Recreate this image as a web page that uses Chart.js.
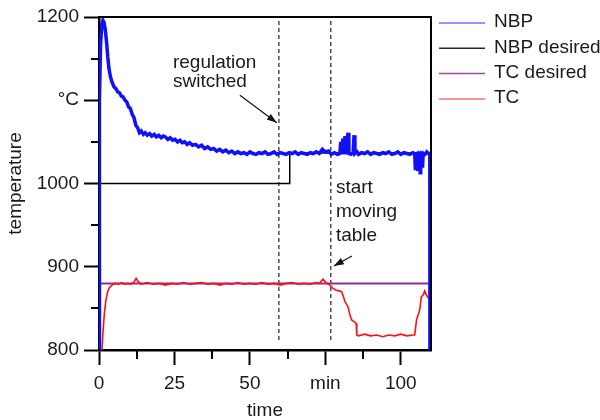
<!DOCTYPE html>
<html>
<head>
<meta charset="utf-8">
<script src="https://cdn.jsdelivr.net/npm/chart.js@4.4.1/dist/chart.umd.min.js"></script>
<style>
  html, body { margin: 0; padding: 0; background: #fff; }
  #wrap { width: 600px; height: 420px; }
</style>
</head>
<body>
<div id="wrap"><canvas id="chart" width="600" height="420"></canvas></div>
<script>
// axis ticks
const xMajor = [0, 25, 50, 75, 100];
const xTickLabels = ['0', '25', '50', 'min', '100'];
const xMinor = [12.5, 37.5, 62.5, 87.5];
const yMajor = [800, 900, 1000, 1100, 1200];
const yTickLabels = ['800', '900', '1000', '°C', '1200'];
const yMinor = [850, 950, 1050, 1150];

// series, [minutes, °C]
const nbpPoints = [
  [0, 790], [0.15, 1100], [0.5, 1165], [0.9, 1190], [1.3, 1196], [1.7, 1193], [2.1, 1184], [2.5, 1170],
  [2.9, 1152], [3.3, 1138], [3.8, 1128], [4.4, 1121], [5, 1116], [5.6, 1114], [6.2, 1110], [6.8, 1109],
  [7.4, 1105], [8, 1104], [8.6, 1100], [9.2, 1098], [9.8, 1092], [10.4, 1090], [11, 1083], [11.6, 1079],
  [12.2, 1070], [12.8, 1067], [13.4, 1061], [14, 1063], [14.7, 1059], [15.3, 1061], [16, 1058], [16.8, 1060],
  [17.5, 1057], [18.3, 1059], [19, 1056], [19.8, 1058], [20.6, 1055], [21.3, 1057], [22, 1056], [22.8, 1053],
  [23.6, 1055], [24.4, 1052], [25.2, 1053], [26, 1050], [26.8, 1052], [27.6, 1049], [28.4, 1050], [29.2, 1047],
  [30, 1049], [31, 1046], [32, 1047], [33, 1044], [34, 1046], [35, 1042], [36, 1044], [37, 1041],
  [38, 1042], [39, 1039], [40, 1041], [41, 1038], [42, 1040], [43, 1037], [44, 1039], [45, 1036],
  [46, 1038], [47, 1036], [48, 1037], [49, 1035], [50, 1038], [51, 1036], [52, 1035], [53, 1037],
  [54, 1036], [55, 1038], [56, 1035], [57, 1036], [58, 1038], [59, 1035], [60, 1037], [61, 1036],
  [62, 1035], [63, 1037], [64, 1036], [65, 1038], [66, 1035], [67, 1037], [68, 1036], [69, 1035],
  [70, 1037], [71, 1036], [72, 1038], [73, 1036], [74, 1041], [75, 1038], [76, 1039], [77, 1035],
  [78, 1037], [79, 1035], [79.8, 1036],
  [80.1, 1050], [80.4, 1036], [80.8, 1054], [81.1, 1035], [81.5, 1057], [81.8, 1035], [82.5, 1061], [82.8, 1036],
  [83.5, 1035], [84.2, 1037], [84.5, 1058], [84.8, 1036], [85.5, 1038], [86, 1035], [87, 1037], [88, 1036],
  [89, 1038], [90, 1035], [91, 1037], [92, 1036], [93, 1035], [94, 1037], [95, 1036], [96, 1038],
  [97, 1035], [98, 1036], [99, 1038], [100, 1035], [101, 1037], [102, 1036], [103, 1035], [104, 1037],
  [104.6, 1036], [104.8, 1018], [105.0, 1035], [105.4, 1036], [105.6, 1015], [105.8, 1035], [106.2, 1036], [106.4, 1013],
  [106.6, 1035], [107.0, 1036], [107.2, 1019], [107.4, 1036], [108, 1035], [108.6, 1038], [109.2, 1036], [109.6, 1036],
  [109.65, 790]
];
const nbpDesiredPoints = [[0, 1000], [63.2, 1000], [63.2, 1036.5], [110, 1036.5]];
const tcDesiredPoints = [[0, 880], [110, 880]];
const tcPoints = [
  [0.9, 795], [1.3, 820], [1.8, 845], [2.3, 860], [2.8, 869], [3.3, 874], [4, 877], [4.7, 879],
  [5.5, 880], [6.5, 879], [7.5, 881], [8.5, 879], [9.5, 880], [10.5, 879], [11.5, 881], [12.3, 886],
  [13, 882], [14, 879], [16, 881], [18, 879], [20, 880], [22, 878], [24, 880], [26, 879],
  [28, 881], [30, 879], [32, 880], [34, 881], [36, 879], [38, 880], [40, 878], [42, 880],
  [44, 879], [46, 881], [48, 879], [50, 880], [52, 879], [54, 881], [56, 879], [58, 880],
  [60, 878], [62, 880], [64, 881], [66, 879], [68, 880], [70, 879], [72, 881], [73, 880],
  [74.2, 885], [75.2, 881], [76.5, 878], [77.5, 874], [78.5, 872], [79.5, 871], [80.4, 870], [81, 864],
  [81.5, 858], [82.5, 852], [83, 844], [83.7, 836], [84.5, 834], [85.2, 832], [85.4, 818], [86, 817],
  [88, 819], [90, 817], [92, 818], [94, 816], [96, 818], [98, 817], [100, 819], [102, 817],
  [104, 818], [104.6, 818], [105.2, 836], [106, 845], [106.3, 849], [106.8, 864], [107.4, 866], [107.9, 871],
  [108.5, 866], [109.2, 862]
];
// dashed markers: regulation switched, start moving table
const markerTimes = [59.6, 76.8];
const markerRange = [812, 1200];

// annotations in data units
const notes = [
  { text: 'regulation', x: 24.5, y: 1145 },
  { text: 'switched', x: 24.5, y: 1122 },
  { text: 'start', x: 78.5, y: 995 },
  { text: 'moving', x: 78.5, y: 966 },
  { text: 'table', x: 78.5, y: 937 }
];
const arrows = [
  { from: [46.7, 1106], to: [58.9, 1073] },
  { from: [83.8, 913], to: [77.8, 901] }
];

const FONT = "'Liberation Sans', Arial, sans-serif";
const toXY = pts => pts.map(p => ({ x: p[0], y: p[1] }));

// lower order is drawn last, so measured curves sit on top of the setpoints
const series = [
  { label: 'NBP', data: toXY(nbpPoints), borderColor: '#1010ff', borderWidth: 3.5, order: 0 },
  { label: 'NBP desired', data: toXY(nbpDesiredPoints), borderColor: '#000000', borderWidth: 1.5, order: 2 },
  { label: 'TC desired', data: toXY(tcDesiredPoints), borderColor: '#93289f', borderWidth: 2, order: 3 },
  { label: 'TC', data: toXY(tcPoints), borderColor: '#ff1010', borderWidth: 1.6, order: 1 }
];
const markers = markerTimes.map(t => ({
  label: '', data: markerRange.map(v => ({ x: t, y: v })),
  borderColor: '#222', borderWidth: 1.2, borderDash: [4, 3], legend: false, order: 4
}));

const decorPlugin = {
  id: 'decor',
  afterDatasetsDraw(chart) {
    const { ctx, chartArea: a, scales: { x, y } } = chart;
    ctx.save();

    // frame top / right
    ctx.strokeStyle = '#000';
    ctx.lineWidth = 2;
    ctx.beginPath();
    ctx.moveTo(a.left, a.top);
    ctx.lineTo(a.right, a.top);
    ctx.lineTo(a.right, a.bottom);
    ctx.stroke();

    // minor ticks
    yMinor.forEach(v => {
      const py = Math.round(y.getPixelForValue(v));
      ctx.beginPath(); ctx.moveTo(a.left - 8, py); ctx.lineTo(a.left, py); ctx.stroke();
    });
    xMinor.forEach(v => {
      const px = Math.round(x.getPixelForValue(v));
      ctx.beginPath(); ctx.moveTo(px, a.bottom); ctx.lineTo(px, a.bottom + 9); ctx.stroke();
    });

    // notes
    ctx.fillStyle = '#1a1a1a';
    ctx.font = '19px ' + FONT;
    ctx.textAlign = 'left';
    ctx.textBaseline = 'middle';
    notes.forEach(n => ctx.fillText(n.text, x.getPixelForValue(n.x), y.getPixelForValue(n.y)));

    // arrows
    ctx.strokeStyle = '#111';
    ctx.fillStyle = '#111';
    ctx.lineWidth = 1.2;
    arrows.forEach(ar => {
      const x1 = x.getPixelForValue(ar.from[0]), y1 = y.getPixelForValue(ar.from[1]);
      const x2 = x.getPixelForValue(ar.to[0]), y2 = y.getPixelForValue(ar.to[1]);
      const ang = Math.atan2(y2 - y1, x2 - x1);
      ctx.beginPath(); ctx.moveTo(x1, y1); ctx.lineTo(x2, y2); ctx.stroke();
      ctx.beginPath();
      ctx.moveTo(x2, y2);
      ctx.lineTo(x2 - 10 * Math.cos(ang) + 3.5 * Math.sin(ang), y2 - 10 * Math.sin(ang) - 3.5 * Math.cos(ang));
      ctx.lineTo(x2 - 10 * Math.cos(ang) - 3.5 * Math.sin(ang), y2 - 10 * Math.sin(ang) + 3.5 * Math.cos(ang));
      ctx.closePath();
      ctx.fill();
    });

    // legend
    ctx.fillStyle = '#1a1a1a';
    chart.data.datasets.filter(d => d.legend !== false).forEach((d, i) => {
      const ly = a.top + 6 + i * 25.3;
      ctx.strokeStyle = d.borderColor;
      ctx.globalAlpha = d.label === 'NBP desired' || d.label === 'TC desired' ? 0.85 : 0.6;
      ctx.lineWidth = 1.5;
      ctx.beginPath(); ctx.moveTo(a.right + 8, ly); ctx.lineTo(a.right + 54, ly); ctx.stroke();
      ctx.globalAlpha = 1;
      ctx.fillText(d.label, a.right + 63, ly - 1);
    });

    ctx.restore();
  }
};

new Chart(document.getElementById('chart'), {
  type: 'line',
  data: { datasets: [...series, ...markers] },
  options: {
    responsive: false,
    animation: false,
    layout: { padding: { top: 17, right: 169, left: 0, bottom: 0 } },
    elements: { point: { radius: 0 }, line: { tension: 0 } },
    plugins: { legend: { display: false }, tooltip: { enabled: false } },
    scales: {
      x: {
        type: 'linear', min: 0, max: 110,
        afterBuildTicks: s => { s.ticks = xMajor.map(v => ({ value: v })); },
        afterFit: s => { s.height = 70; },
        border: { color: '#000', width: 2.5 },
        grid: { drawOnChartArea: false, tickLength: 15, tickWidth: 2, tickColor: '#000' },
        ticks: {
          color: '#1a1a1a', font: { family: FONT, size: 19 }, padding: 7, maxRotation: 0,
          callback: v => xTickLabels[xMajor.indexOf(v)]
        },
        title: { display: true, text: 'time', color: '#1a1a1a', font: { family: FONT, size: 19, lineHeight: 1 }, padding: 0 }
      },
      y: {
        type: 'linear', min: 800, max: 1200,
        afterBuildTicks: s => { s.ticks = yMajor.map(v => ({ value: v })); },
        afterFit: s => { s.width = 99; },
        border: { color: '#000', width: 2.5 },
        grid: { drawOnChartArea: false, tickLength: 15, tickWidth: 2, tickColor: '#000' },
        ticks: {
          color: '#1a1a1a', font: { family: FONT, size: 19 }, padding: 5,
          callback: v => yTickLabels[yMajor.indexOf(v)]
        },
        title: { display: true, text: 'temperature', color: '#1a1a1a', font: { family: FONT, size: 19 }, padding: 4 }
      }
    }
  },
  plugins: [decorPlugin]
});
</script>
</body>
</html>
